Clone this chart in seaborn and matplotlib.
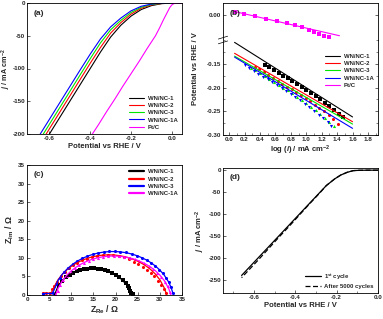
import matplotlib
matplotlib.use('Agg')
import matplotlib.pyplot as plt
import seaborn as sns
from matplotlib.ticker import AutoMinorLocator, MultipleLocator

# ---- (a) polarisation curves ----
lsv_v = [0.05, 0.0, -0.05, -0.10, -0.15, -0.20, -0.25, -0.30, -0.35, -0.40, -0.45, -0.50, -0.55, -0.60, -0.65]
lsv_wn1 = [0, 0, -1, -4, -10, -20, -34, -52, -75, -100, -125, -150, -175, -200, -225]
lsv_wn2 = [0, 0, -0.7, -3, -8, -17, -30, -46, -68, -92, -117, -142, -167, -192, -217]
lsv_wn3 = [0, 0, -0.5, -2.2, -6.5, -14.5, -26.5, -41, -61, -85, -110, -135, -160, -185, -210]
lsv_wn1a = [0, 0, -0.3, -1.6, -5, -12, -23, -36.5, -55, -78, -102.5, -127.5, -152.5, -177.5, -202.5]
ptc_v = [0.05, 0.03, 0.02, 0.01, 0.0, -0.01, -0.02, -0.04, -0.06, -0.08, -0.12, -0.16, -0.20, -0.24, -0.28, -0.32, -0.36, -0.40, -0.42]
ptc_j = [0, 0, -0.3, -1, -3, -7, -13, -25, -38, -50, -69, -89, -108, -127, -147, -166, -186, -205, -215]

# ---- (b) Tafel plots ----
fit_x = [0.07, 1.6]
fit_wn1 = [-0.105, -0.262]
fit_wn2 = [-0.128, -0.272]
fit_wn3 = [-0.134, -0.277]
fit_wn1a = [-0.136, -0.286]
taf_x1 = [0.46, 0.52, 0.58, 0.64, 0.70, 0.76, 0.82, 0.88, 0.94, 1.00, 1.06, 1.12, 1.18, 1.24, 1.30, 1.36, 1.42, 1.47]
taf_y1 = [-0.152, -0.157, -0.163, -0.169, -0.175, -0.181, -0.187, -0.193, -0.199, -0.205, -0.211, -0.218, -0.225, -0.232, -0.239, -0.247, -0.255, -0.262]
taf_x2 = [0.33, 0.39, 0.45, 0.51, 0.57, 0.63, 0.69, 0.75, 0.81, 0.87, 0.93, 0.99, 1.05, 1.11, 1.17, 1.23, 1.29, 1.35, 1.41]
taf_y2 = [-0.156, -0.162, -0.168, -0.174, -0.180, -0.186, -0.192, -0.198, -0.204, -0.210, -0.216, -0.222, -0.229, -0.236, -0.243, -0.250, -0.258, -0.266, -0.276]
taf_x3 = [0.28, 0.34, 0.40, 0.46, 0.52, 0.58, 0.64, 0.70, 0.76, 0.82, 0.88, 0.94, 1.00, 1.06, 1.12, 1.18, 1.24, 1.30, 1.36]
taf_y3 = [-0.158, -0.164, -0.170, -0.176, -0.182, -0.188, -0.194, -0.200, -0.206, -0.212, -0.219, -0.226, -0.233, -0.240, -0.248, -0.256, -0.264, -0.272, -0.280]
taf_x1a = [0.20, 0.26, 0.32, 0.38, 0.44, 0.50, 0.56, 0.62, 0.68, 0.74, 0.80, 0.86, 0.92, 0.98, 1.04, 1.10, 1.16, 1.22, 1.28, 1.32]
taf_y1a = [-0.153, -0.159, -0.165, -0.171, -0.177, -0.183, -0.189, -0.195, -0.201, -0.207, -0.213, -0.220, -0.227, -0.234, -0.241, -0.249, -0.257, -0.265, -0.273, -0.280]
ptc_fit_x = [0.07, 1.43]
ptc_fit_y = [0.007, -0.044]
ptc_tx = [0.07, 0.19, 0.34, 0.48, 0.62, 0.75, 0.86, 0.94, 1.03, 1.10, 1.16, 1.23, 1.29]
ptc_ty = [0.007, 0.002, -0.003, -0.008, -0.012, -0.018, -0.022, -0.026, -0.032, -0.036, -0.040, -0.044, -0.047]

# ---- (c) Nyquist plots (fits) ----
nyq_x1 = [6.2, 7, 8, 9, 10, 11, 12, 13, 14, 15, 16, 17, 18, 19, 20, 21, 22, 22.6, 23.0, 23.1, 23.3, 23.8, 24.1]
nyq_y1 = [0, 2.35, 3.93, 4.98, 5.76, 6.33, 6.74, 7.01, 7.16, 7.2, 7.12, 6.92, 6.59, 6.12, 5.47, 4.6, 3.38, 2.9, 2.6, 1.5, 0.8, 0.3, 0]
nyq_x2 = [3.5, 5.3, 5.5, 6, 7, 8, 9, 10, 11, 12, 13, 14, 15, 16, 17, 18, 19, 20, 21, 22, 23, 24, 25, 26, 27, 28, 29, 30, 31, 31.5]
nyq_y2 = [0.5, 0.5, 0.6, 1.89, 4.1, 5.61, 6.78, 7.71, 8.47, 9.09, 9.6, 10.01, 10.33, 10.56, 10.72, 10.79, 10.79, 10.72, 10.56, 10.33, 10.01, 9.6, 9.09, 8.47, 7.71, 6.78, 5.61, 4.1, 1.89, 0.2]
nyq_x3 = [3.5, 5.6, 6, 7, 8, 9, 10, 11, 12, 13, 14, 15, 16, 17, 18, 19, 20, 21, 22, 23, 24, 25, 26, 27, 28, 29, 30, 31, 32, 32.5, 33]
nyq_y3 = [0.4, 0.4, 1.03, 3.89, 5.64, 6.94, 7.99, 8.84, 9.54, 10.12, 10.6, 10.98, 11.28, 11.49, 11.63, 11.7, 11.69, 11.61, 11.45, 11.22, 10.91, 10.51, 10.01, 9.41, 8.68, 7.8, 6.71, 5.33, 3.46, 2.13, 0.3]
nyq_x1a = [6.5, 7, 8, 9, 10, 11, 12, 13, 14, 15, 16, 17, 18, 19, 20, 21, 22, 23, 24, 25, 26, 27, 28, 29, 30, 31, 32, 32.5]
nyq_y1a = [0, 1.74, 3.88, 5.36, 6.51, 7.43, 8.18, 8.8, 9.31, 9.72, 10.03, 10.26, 10.42, 10.49, 10.49, 10.42, 10.26, 10.03, 9.72, 9.31, 8.8, 8.18, 7.43, 6.51, 5.36, 3.88, 1.74, 0]
# measured points
pts_x1 = [7.2, 8.0, 8.8, 9.6, 10.4, 11.2, 12.0, 12.8, 13.6, 14.4, 15.2, 16.0, 16.8, 17.6, 18.4, 19.2, 20.0, 20.8, 21.6, 22.3, 22.9, 23.1, 23.2, 23.5, 23.9]
pts_y1 = [2.6, 3.9, 4.8, 5.5, 6.0, 6.4, 6.7, 6.95, 7.1, 7.2, 7.15, 7.1, 6.95, 6.7, 6.35, 5.95, 5.4, 4.75, 4.0, 3.1, 2.5, 1.8, 1.1, 0.6, 0.2]
pts_x2 = [3.5, 4.3, 5.2, 5.6, 6.1, 6.8, 7.6, 8.5, 9.4, 10.4, 11.4, 12.5, 13.6, 14.7, 15.9, 17.1, 18.3, 19.5, 20.7, 21.9, 23.0, 24.1, 25.1, 26.1, 27.0, 27.9, 28.7, 29.5, 30.2, 30.9, 31.4]
pts_y2 = [0.5, 0.5, 0.5, 1.5, 2.3, 3.6, 5.0, 6.2, 7.2, 8.0, 8.7, 9.3, 9.8, 10.2, 10.5, 10.7, 10.8, 10.75, 10.55, 10.2, 9.7, 9.0, 8.3, 7.6, 6.8, 6.0, 5.0, 3.9, 2.8, 1.5, 0.6]
pts_x3 = [3.5, 5.9, 6.6, 7.4, 8.3, 9.3, 10.3, 11.4, 12.5, 13.6, 14.8, 16.0, 17.3, 18.6, 19.8, 21.0, 22.3, 23.6, 24.8, 26.0, 27.1, 28.1, 29.0, 29.9, 30.7, 31.4, 32.0, 32.5, 33.0]
pts_y3 = [0.4, 0.6, 2.9, 4.6, 6.1, 7.3, 8.3, 9.2, 9.9, 10.5, 11.0, 11.4, 11.6, 11.8, 11.8, 11.7, 11.5, 11.1, 10.6, 10.0, 9.3, 8.6, 7.8, 6.8, 5.8, 4.6, 3.4, 2.1, 0.6]
pts_x1a = [6.3, 6.9, 7.5, 8.2, 9.0, 9.9, 10.8, 11.8, 12.8, 13.9, 15.0, 16.1, 17.2, 18.4, 19.6, 20.8, 22.0, 23.2, 24.3, 25.4, 26.5, 27.5, 28.5, 29.4, 30.3, 31.1, 31.8, 32.4]
pts_y1a = [0.3, 1.2, 2.7, 4.0, 5.2, 6.3, 7.2, 8.0, 8.6, 9.2, 9.7, 10.0, 10.3, 10.45, 10.5, 10.45, 10.25, 10.0, 9.6, 9.1, 8.5, 7.8, 7.0, 6.0, 4.9, 3.6, 2.3, 0.8]

# ---- (d) stability ----
stab_v = [0.0, -0.05, -0.09, -0.12, -0.15, -0.18, -0.21, -0.25, -0.28, -0.33, -0.38, -0.43, -0.48, -0.53, -0.58, -0.62, -0.66]
stab_first = [0, 0, -0.3, -1, -5, -11, -20, -35, -50, -75, -100, -125, -150, -175, -200, -220, -240]
stab_after = [0, 0, -0.3, -1, -5, -11, -20, -35, -51, -76, -102, -128, -153, -179, -205, -225, -245]

sns.set_theme(style='ticks')
plt.rcParams.update({
    'font.family': ['Liberation Sans', 'DejaVu Sans'],
    'font.weight': 'bold',
    'axes.labelweight': 'bold',
    'axes.labelsize': 5.5,
    'axes.unicode_minus': False,
    'xtick.labelsize': 4.5,
    'ytick.labelsize': 4.5,
    'xtick.direction': 'in',
    'ytick.direction': 'in',
    'xtick.major.size': 2, 'ytick.major.size': 2,
    'xtick.minor.size': 1.2, 'ytick.minor.size': 1.2,
    'xtick.major.width': 0.5, 'ytick.major.width': 0.5,
    'xtick.minor.width': 0.4, 'ytick.minor.width': 0.4,
    'xtick.major.pad': 1.5, 'ytick.major.pad': 1.5,
    'axes.labelpad': 1.2,
    'axes.linewidth': 0.6,
    'axes.edgecolor': 'black',
    'mathtext.fontset': 'custom',
    'mathtext.rm': 'Liberation Sans:bold',
    'mathtext.bf': 'Liberation Sans:bold',
    'mathtext.it': 'Liberation Sans:italic:bold',
    'mathtext.default': 'bf',
})

BLACK, RED, GREEN, BLUE, MAG = 'black', '#ff0000', '#00e600', '#0000ff', '#ff00ff'
leg_kw = dict(frameon=False, prop={'weight': 'bold', 'size': 4.3}, handlelength=2.6,
              handletextpad=0.6, labelspacing=0.35, borderaxespad=0.3)

fig = plt.figure(figsize=(3.83, 3.19), dpi=100)
W, H = 383, 319


def box(l, t, r, b):
    return [l / W, 1 - b / H, (r - l) / W, (b - t) / H]


def panel_label(ax, s, y=0.95):
    ax.text(0.04, y, s, transform=ax.transAxes, fontsize=6, fontweight='bold', va='top')


# (a)
ax_a = fig.add_axes(box(27, 3, 182, 134))
for y, c, lab in [(lsv_wn1, BLACK, 'WN/NC-1'), (lsv_wn2, RED, 'WN/NC-2'),
                  (lsv_wn3, GREEN, 'WN/NC-3'), (lsv_wn1a, BLUE, 'WN/NC-1A')]:
    sns.lineplot(x=lsv_v, y=y, ax=ax_a, color=c, lw=0.8, label=lab, sort=False, estimator=None)
sns.lineplot(x=ptc_v, y=ptc_j, ax=ax_a, color=MAG, lw=0.8, label='Pt/C', sort=False, estimator=None)
ax_a.set_xlim(-0.71, 0.05)
ax_a.set_ylim(-200, 0)
ax_a.xaxis.set_major_locator(MultipleLocator(0.2))
ax_a.yaxis.set_major_locator(MultipleLocator(50))
ax_a.set_xlabel('Potential vs RHE / V')
ax_a.set_ylabel(r'$\mathit{j}$ / mA cm$^{-2}$', fontsize=5.2)
ax_a.yaxis.set_label_coords(-0.088, 0.5)
ax_a.legend(loc='lower right', **leg_kw)
panel_label(ax_a, '(a)')

# (b) broken axis
ax_bt = fig.add_axes(box(223, 3, 378, 40))
ax_b = fig.add_axes(box(223, 40, 378, 135))
sns.lineplot(x=ptc_fit_x, y=ptc_fit_y, ax=ax_bt, color=MAG, lw=0.8, sort=False, estimator=None)
sns.scatterplot(x=ptc_tx, y=ptc_ty, ax=ax_bt, color=MAG, marker='s', s=5, linewidth=0)
series_b = [(fit_wn1, taf_x1, taf_y1, BLACK, 's', 'WN/NC-1'),
            (fit_wn2, taf_x2, taf_y2, RED, 'o', 'WN/NC-2'),
            (fit_wn3, taf_x3, taf_y3, GREEN, '^', 'WN/NC-3'),
            (fit_wn1a, taf_x1a, taf_y1a, BLUE, 'v', 'WN/NC-1A')]
for fy, px, py, c, m, lab in series_b:
    sns.lineplot(x=fit_x, y=fy, ax=ax_b, color=c, lw=0.8, label=lab, sort=False, estimator=None)
    sns.scatterplot(x=px, y=py, ax=ax_b, color=c, marker=m, s=5, linewidth=0)
for ax in (ax_bt, ax_b):
    ax.set_xlim(-0.08, 1.93)
    ax.xaxis.set_major_locator(MultipleLocator(0.2))
    ax.xaxis.set_minor_locator(AutoMinorLocator(2))
    ax.yaxis.set_minor_locator(AutoMinorLocator(2))
    ax.tick_params(which='both', right=True)
ax_bt.set_ylim(-0.053, 0.025)
ax_bt.set_yticks([0.0])
ax_bt.yaxis.set_major_formatter('{x:.2f}')
ax_bt.spines['bottom'].set_visible(False)
ax_bt.tick_params(which='both', bottom=False, labelbottom=False)
ax_b.set_ylim(-0.30, -0.10)
ax_b.set_yticks([-0.30, -0.25, -0.20, -0.15])
ax_b.yaxis.set_major_formatter('{x:.2f}')
ax_b.spines['top'].set_visible(False)
ax_b.set_xlabel(r'log ($\mathit{i}$) / mA cm$^{-2}$')
ax_b.set_ylabel('Potential vs RHE / V')
ax_b.yaxis.set_label_coords(-0.155, 0.7)
for yy in (-0.025, 0.025):
    ax_b.plot([-0.03, 0.03], [1 + yy - 0.015, 1 + yy + 0.015], transform=ax_b.transAxes,
              color='black', lw=0.5, clip_on=False)
h, l = ax_b.get_legend_handles_labels()
h.append(plt.Line2D([], [], color=MAG, lw=0.8))
l.append('Pt/C')
ax_b.legend(h, l, loc='upper right', bbox_to_anchor=(1.0, 0.9), **leg_kw)
panel_label(ax_bt, '(b)', y=0.8)

# (c)
ax_c = fig.add_axes(box(27, 165, 182, 295))
series_c = [(nyq_x1, nyq_y1, pts_x1, pts_y1, BLACK, 's', 'WN/NC-1'),
            (nyq_x2, nyq_y2, pts_x2, pts_y2, RED, 'o', 'WN/NC-2'),
            (nyq_x3, nyq_y3, pts_x3, pts_y3, BLUE, 'o', 'WN/NC-3'),
            (nyq_x1a, nyq_y1a, pts_x1a, pts_y1a, MAG, '^', 'WN/NC-1A')]
for lx, ly, px, py, c, m, lab in series_c:
    sns.scatterplot(x=px, y=py, ax=ax_c, color=c, marker=m, s=5, linewidth=0)
    sns.lineplot(x=lx, y=ly, ax=ax_c, color=c, lw=0.9, label=lab, sort=False, estimator=None)
ax_c.set_xlim(0, 35)
ax_c.set_ylim(0, 35)
ax_c.xaxis.set_major_locator(MultipleLocator(5))
ax_c.yaxis.set_major_locator(MultipleLocator(5))
ax_c.set_xlabel(r'Z$_{Re}$ / Ω', fontsize=6.3)
ax_c.set_ylabel(r'Z$_{Im}$ / Ω', fontsize=6.3)
ax_c.legend(loc='upper right', **leg_kw)
for line in ax_c.get_legend().get_lines():
    line.set_linewidth(1.6)
panel_label(ax_c, '(c)')

# (d)
ax_d = fig.add_axes(box(223, 168, 378, 293))
sns.lineplot(x=stab_v, y=stab_first, ax=ax_d, color='black', lw=0.9, label=r'1$^{st}$ cycle',
             sort=False, estimator=None)
sns.lineplot(x=stab_v, y=stab_after, ax=ax_d, color='black', lw=0.9, ls=(0, (4, 2)),
             label='After 5000 cycles', sort=False, estimator=None)
ax_d.set_xlim(-0.75, 0.0)
ax_d.set_ylim(-280, 5)
ax_d.xaxis.set_major_locator(MultipleLocator(0.2))
ax_d.xaxis.set_minor_locator(MultipleLocator(0.1))
ax_d.yaxis.set_major_locator(MultipleLocator(50))
ax_d.set_xlabel('Potential vs RHE / V')
ax_d.set_ylabel(r'$\mathit{j}$ / mA cm$^{-2}$')
ax_d.legend(loc='lower right', **leg_kw)
panel_label(ax_d, '(d)')

fig.savefig('out.png', dpi=100)
